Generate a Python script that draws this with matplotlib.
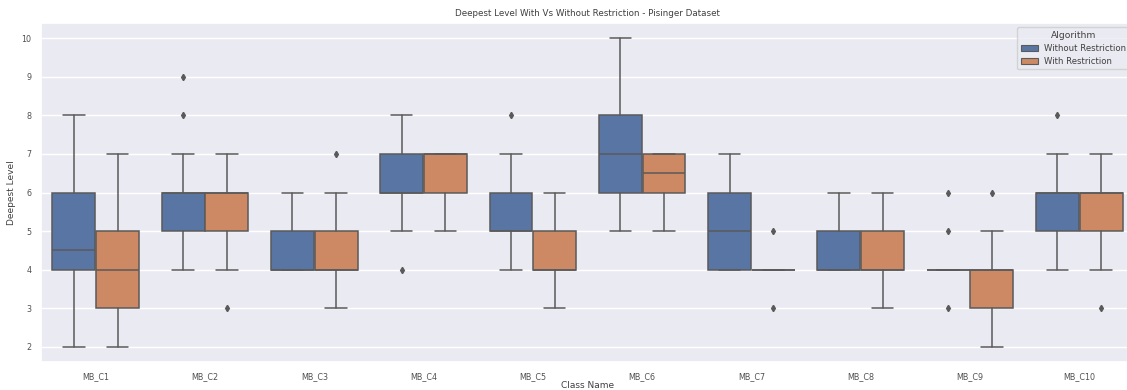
import numpy as np
import matplotlib
matplotlib.use("Agg")
import matplotlib.pyplot as plt
import seaborn as sns

# box statistics (per class, per algorithm)
classes = ["MB_C1", "MB_C2", "MB_C3", "MB_C4", "MB_C5",
           "MB_C6", "MB_C7", "MB_C8", "MB_C9", "MB_C10"]
algorithms = ["Without Restriction", "With Restriction"]

# Without Restriction
wo_whislo = [2, 4, 4, 5, 4, 5, 4, 4, 4, 4]
wo_q1     = [4, 5, 4, 6, 5, 6, 4, 4, 4, 5]
wo_med    = [4.5, 6, 4, 6, 5, 7, 5, 4, 4, 6]
wo_q3     = [6, 6, 5, 7, 6, 8, 6, 5, 4, 6]
wo_whishi = [8, 7, 6, 8, 7, 10, 7, 6, 4, 7]
wo_fliers = [[], [8, 9], [], [4], [8], [], [], [], [3, 5, 6], [8]]

# With Restriction
w_whislo = [2, 4, 3, 5, 3, 5, 4, 3, 2, 4]
w_q1     = [3, 5, 4, 6, 4, 6, 4, 4, 3, 5]
w_med    = [4, 6, 4, 7, 4, 6.5, 4, 4, 4, 6]
w_q3     = [5, 6, 5, 7, 5, 7, 4, 5, 4, 6]
w_whishi = [7, 7, 6, 7, 6, 7, 4, 6, 5, 7]
w_fliers = [[], [3], [7], [], [], [], [3, 5], [], [6], [3]]


def make_stats(lo, q1, med, q3, hi, fl):
    return [dict(whislo=a, q1=b, med=c, q3=d, whishi=e, fliers=f)
            for a, b, c, d, e, f in zip(lo, q1, med, q3, hi, fl)]


sns.set_theme(style="darkgrid")
plt.rcParams["font.family"] = ["DejaVu Sans"]
plt.rcParams["text.color"] = "#404040"
plt.rcParams["xtick.color"] = "#505050"
plt.rcParams["ytick.color"] = "#505050"
plt.rcParams["axes.labelcolor"] = "#404040"

pal = sns.color_palette("deep", 2)
colors = [sns.desaturate(c, 0.75) for c in pal]
gray = "#5a5a5a"

fig = plt.figure(figsize=(11.27, 3.90), dpi=100)
ax = fig.add_axes([41 / 1127, 1 - 362 / 390, 1093 / 1127, 339 / 390])

x = np.arange(len(classes))
width = 0.4 * 0.98
lw = 1.1
groups = [make_stats(wo_whislo, wo_q1, wo_med, wo_q3, wo_whishi, wo_fliers),
          make_stats(w_whislo, w_q1, w_med, w_q3, w_whishi, w_fliers)]
offsets = [-0.2, 0.2]

for stats, off, col in zip(groups, offsets, colors):
    ax.bxp(stats, positions=x + off, widths=width, patch_artist=True,
           manage_ticks=False,
           boxprops=dict(facecolor=col, edgecolor=gray, linewidth=lw),
           medianprops=dict(color=gray, linewidth=lw),
           whiskerprops=dict(color=gray, linewidth=lw),
           capprops=dict(color=gray, linewidth=lw),
           flierprops=dict(marker="d", markerfacecolor=gray, markeredgecolor=gray,
                           markersize=3.2, linestyle="none"))

ax.grid(False, axis="x")
ax.set_xticks(x)
ax.set_xticklabels(classes)
ax.set_xlim(-0.5, len(classes) - 0.5)
ax.set_ylim(1.6, 10.4)
ax.tick_params(labelsize=5.8, pad=1)
ax.set_xlabel("Class Name", fontsize=6.5, labelpad=0)
ax.set_ylabel("Deepest Level", fontsize=6.5, labelpad=4)
ax.set_title("Deepest Level With Vs Without Restriction - Pisinger Dataset",
             fontsize=6.3, pad=5)

handles = [plt.Rectangle((0, 0), 1, 1, facecolor=c, edgecolor=gray, linewidth=0.8)
           for c in colors]
ax.legend(handles, algorithms, title="Algorithm", loc="upper right",
          fontsize=6.1, title_fontsize=6.6, borderaxespad=0.5)

fig.savefig("out.png", dpi=100)
